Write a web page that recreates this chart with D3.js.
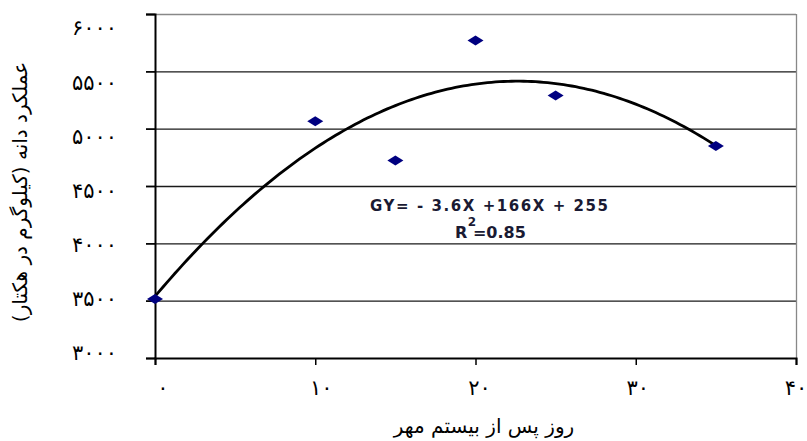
<!DOCTYPE html>
<html><head><meta charset="utf-8">
<script src="https://cdn.jsdelivr.net/npm/d3@7"></script>
<style>body{margin:0;background:#fff}svg{display:block}</style>
</head><body>
<svg id="c" width="807" height="441"></svg>
<script>
const xTicks = [0, 10, 20, 30, 40];
const yTicks = [3000, 3500, 4000, 4500, 5000, 5500, 6000];
const days = [0, 10, 15, 20, 25, 35];
const yieldVals = [3515, 5065, 4722, 5768, 5290, 4848];
const trendCoef = [-3.67, 166, 3537]; // a, b, c of a*x^2 + b*x + c
const xTitle = "روز پس از بیستم مهر";
const yTitle = "عملکرد دانه (کیلوگرم در هکتار)";
const eqLine1 = "GY= - 3.6X +166X + 255";
const eqLine2 = "2";
const eqLine3 = "R =0.85";

const fa = n => String(n).replace(/\d/g, d => "۰۱۲۳۴۵۶۷۸۹"[d]);
const svg = d3.select("#c");
const L = 155, R = 796, T = 14, B = 358;
const x = d3.scaleLinear().domain([0, 40]).range([L, R]);
const y = d3.scaleLinear().domain([3000, 6000]).range([B, T]);
// tick labels sit on their own slightly offset spacing, as in the reference
const xLab = d3.scaleLinear().domain([0, 40]).range([163, 796]);
const yLab = d3.scaleLinear().domain([3000, 6000]).range([353, 28]);
const font = "'DejaVu Sans', sans-serif";

// gridlines
svg.append("g").selectAll("line").data(yTicks.filter(v => v > 3000 && v < 6000)).join("line")
  .attr("x1", L - 9).attr("x2", R).attr("y1", d => y(d) + 0.5).attr("y2", d => y(d) + 0.5)
  .attr("stroke", "#1a1a1a").attr("stroke-width", 1.3);
// top & right border
svg.append("line").attr("x1", L - 9).attr("x2", R).attr("y1", T + 0.5).attr("y2", T + 0.5).attr("stroke", "#888").attr("stroke-width", 1.3);
svg.append("line").attr("x1", R + 0.5).attr("x2", R + 0.5).attr("y1", T).attr("y2", B).attr("stroke", "#888").attr("stroke-width", 1.3);

// y axis
const yAxis = svg.append("g").attr("transform", `translate(${L},0)`)
  .call(d3.axisLeft(y).tickValues(yTicks).tickSize(9).tickFormat(""));
yAxis.select(".domain").attr("stroke", "#000").attr("stroke-width", 2);
yAxis.selectAll(".tick line").attr("stroke", "#000").attr("stroke-width", 1.5);
svg.append("g").selectAll("text").data(yTicks).join("text")
  .attr("x", 117).attr("y", d => yLab(d)).attr("dy", "0.35em")
  .attr("text-anchor", "end").attr("font-family", font).attr("font-size", 21).attr("fill", "#000")
  .attr("direction", "ltr")
  .text(d => fa(d));

// x axis
const xAxis = svg.append("g").attr("transform", `translate(0,${B})`)
  .call(d3.axisBottom(x).tickValues(xTicks).tickSize(7).tickFormat(""));
xAxis.select(".domain").attr("stroke", "#000").attr("stroke-width", 2);
xAxis.selectAll(".tick line").attr("stroke", "#000").attr("stroke-width", 1.5);
svg.append("g").selectAll("text").data(xTicks).join("text")
  .attr("x", d => xLab(d)).attr("y", 388).attr("dy", "0.35em")
  .attr("text-anchor", "middle").attr("font-family", font).attr("font-size", 21).attr("fill", "#000")
  .attr("direction", "ltr")
  .text(d => fa(d));

// trend curve
const trendX = d3.range(0, 35.01, 0.25);
const f = v => trendCoef[0] * v * v + trendCoef[1] * v + trendCoef[2];
svg.append("path").datum(trendX)
  .attr("d", d3.line().x(d => x(d)).y(d => y(f(d))))
  .attr("fill", "none").attr("stroke", "#000").attr("stroke-width", 2.8);

// markers
svg.append("g").selectAll("path").data(days.map((d, i) => [d, yieldVals[i]])).join("path")
  .attr("transform", d => `translate(${x(d[0])},${y(d[1])})`)
  .attr("d", "M-8,0L0,-5L8,0L0,5Z").attr("fill", "#000080");

// equation
const eq = svg.append("g").attr("font-family", "'DejaVu Sans', sans-serif").attr("font-weight", "bold")
  .attr("fill", "#1a1a33").attr("font-size", 15);
eq.append("text").attr("x", 370).attr("y", 211).attr("textLength", 238).text(eqLine1);
eq.append("text").attr("x", 472).attr("y", 226).attr("text-anchor", "middle").attr("font-size", 12).text(eqLine2);
eq.append("text").attr("x", 455).attr("y", 238).attr("font-size", 16).text(eqLine3);

// titles
svg.append("text").attr("x", 484).attr("y", 433).attr("text-anchor", "middle")
  .attr("font-family", font).attr("font-size", 20).attr("fill", "#000").text(xTitle);
svg.append("text").attr("transform", "translate(27,192) rotate(-90)").attr("text-anchor", "middle")
  .attr("font-family", font).attr("font-size", 20).attr("fill", "#000").text(yTitle);
</script>
</body></html>
